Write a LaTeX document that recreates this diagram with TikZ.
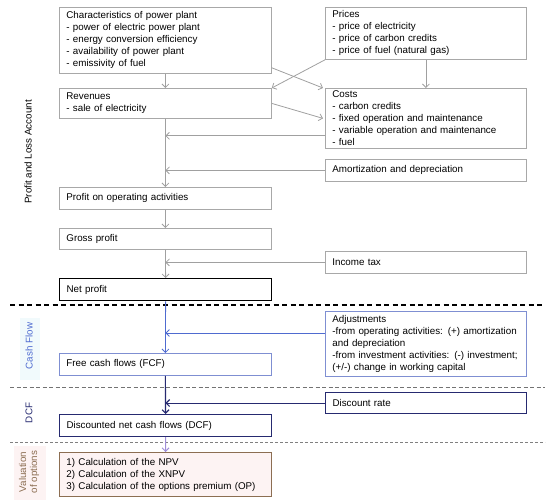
\documentclass[tikz,border=0pt]{standalone}
\usepackage{fontspec}
\setmainfont{Liberation Sans}
\usetikzlibrary{arrows.meta,calc}
\definecolor{gline}{HTML}{A0A0A0}
\definecolor{gbox}{HTML}{A8A8A8}
\definecolor{cfblue}{HTML}{4F6BD0}
\definecolor{cfbox}{HTML}{7F8FD2}
\definecolor{navy}{HTML}{262A70}
\definecolor{brown}{HTML}{8C6E52}
\definecolor{lav}{HTML}{A08ED8}
\definecolor{pinkbg}{HTML}{FDF3F3}
\definecolor{cyanbg}{HTML}{F1FAFC}
\begin{document}
\begin{tikzpicture}[x=1pt,y=-1pt,font=\fontsize{9.8}{12}\selectfont,
  box/.style={draw=gbox,line width=0.8pt,rectangle,anchor=north west,inner xsep=7pt,inner ysep=2pt,align=left},
  lbox/.style={box,text width=198pt},
  rbox/.style={box,text width=187pt},
  arr/.style={draw=gline,line width=0.8pt,-{Straight Barb[length=3.5pt,width=7pt]}},
  seclabel/.style={rotate=90,anchor=center,align=center,font=\fontsize{9.8}{11}\selectfont}]
\useasboundingbox (0,0) rectangle (550,504);
% section backgrounds
\fill[cyanbg] (20,318) rectangle (40,380);
\fill[pinkbg] (14,446) rectangle (46,500);
% boxes
\node[lbox,minimum height=66pt] (char) at (59,7) {Characteristics of power plant\\- power of electric power plant\\- energy conversion efficiency\\- availability of power plant\\- emissivity of fuel};
\node[rbox,minimum height=52pt] (prices) at (325,7) {Prices\\- price of electricity\\- price of carbon credits\\- price of fuel (natural gas)};
\node[lbox,minimum height=30pt] (rev) at (59,88) {Revenues\\- sale of electricity};
\node[rbox,minimum height=60pt] (costs) at (325,88) {Costs\\- carbon credits\\- fixed operation and maintenance\\- variable operation and maintenance\\- fuel};
\node[rbox,minimum height=22pt] (amort) at (325,159) {Amortization and depreciation};
\node[lbox,minimum height=22pt] (profop) at (59,187) {Profit on operating activities};
\node[lbox,minimum height=21pt] (gross) at (59,228) {Gross profit};
\node[rbox,minimum height=22pt] (income) at (325,251) {Income tax};
\node[lbox,minimum height=22pt,draw=black,line width=1.3pt] (net) at (59,278) {Net profit};
\node[rbox,minimum height=65pt,draw=cfbox] (adj) at (325,311) {Adjustments\\-from operating activities: (+) amortization\\and depreciation\\-from investment activities: (-) investment;\\(+/-) change in working capital};
\node[lbox,minimum height=22pt,draw=cfbox] (fcf) at (59,353) {Free cash flows (FCF)};
\node[rbox,minimum height=21pt,draw=navy,line width=1.1pt] (disc) at (325,392) {Discount rate};
\node[lbox,minimum height=22pt,draw=navy,line width=1.1pt] (dcf) at (59,414) {Discounted net cash flows (DCF)};
\node[lbox,minimum height=44pt,draw=brown,fill=pinkbg,line width=1pt] (val) at (59,452) {1) Calculation of the NPV\\2) Calculation of the XNPV\\3) Calculation of the options premium (OP)};
% section labels
\node[seclabel] (lplo) at (28,152) {Profit and Loss Account};
\node[seclabel,text=cfblue] (lcf) at (29,346) {Cash Flow};
\node[seclabel,text=navy] (ldcf) at (29,413) {DCF};
\node[seclabel,text=brown] (lval) at (29,472) {Valuation\\of options};
% dashed separators
\draw[black,line width=1.2pt,dash pattern=on 5pt off 3.5pt] (10,305) -- (545,305);
\draw[gray!90!black,line width=0.9pt,dash pattern=on 4pt off 2.5pt] (10,387) -- (545,387);
\draw[gray,line width=0.9pt,dash pattern=on 3pt off 2pt] (10,442) -- (545,442);
% helper coordinates
\coordinate (charout) at ($(char.south east)+(0,-6)$);
\coordinate (costout) at ($(costs.south west)+(0,-13)$);
\coordinate (adjout) at ($(adj.north west)+(0,22)$);
% connectors
\draw[arr] (char.south) -- (rev.north);
\draw[arr] (prices.south) -- (costs.north);
\draw[arr] (charout) -- ($(costs.north west)+(-2,0)$);
\draw[arr] (prices.south west) -- (rev.north east);
\draw[arr] (rev.east) -- ($(costs.west)+(-2,0)$);
\draw[arr] (costout) -- (costout -| rev.south);
\draw[arr] (amort.west) -- (amort.west -| rev.south);
\draw[arr] (rev.south) -- (profop.north);
\draw[arr] (profop.south) -- (gross.north);
\draw[arr] (income.west) -- (income.west -| rev.south);
\draw[arr] (gross.south) -- (net.north);
\draw[arr,draw=cfblue] (net.south) -- (fcf.north);
\draw[arr,draw=cfblue] (adjout) -- (adjout -| rev.south);
\draw[arr,draw=navy,line width=1.1pt] (fcf.south) -- (dcf.north);
\draw[arr,draw=navy,line width=1.1pt] (disc.west) -- (disc.west -| rev.south);
\draw[arr,draw=lav,line width=1pt] (dcf.south) -- (val.north);
\end{tikzpicture}
\end{document}
